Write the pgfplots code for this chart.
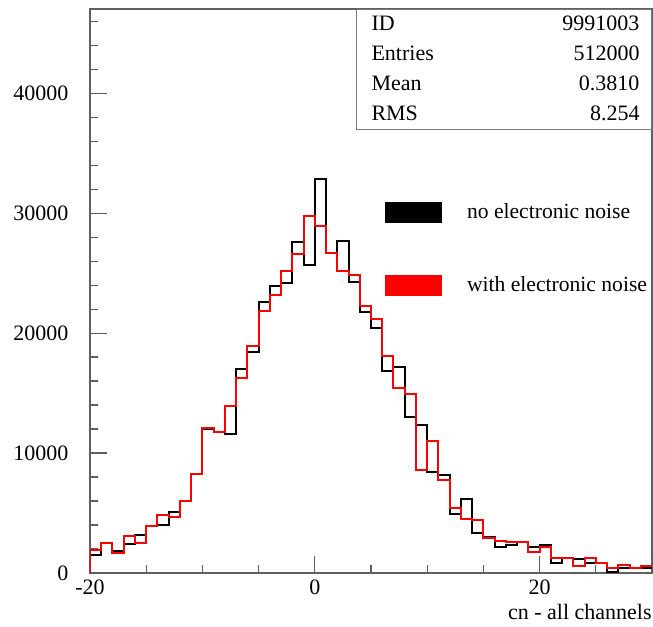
\documentclass[border=0pt]{standalone}
\usepackage{pgfplots}
\pgfplotsset{compat=1.18}
\usepackage{pgfplotstable}
\usepackage{fontspec}
\setmainfont{Liberation Serif}
\definecolor{axgray}{RGB}{95,95,95}
\definecolor{boxgray}{RGB}{120,120,120}
\pgfplotstableread{
x black red
-20 0 0
-20 1480 1910
-19 2500 2500
-18 1830 1650
-17 2400 3060
-16 3190 2500
-15 3900 3900
-14 3980 4830
-13 5080 4670
-12 6010 6010
-11 8220 8220
-10 12000 12110
-9 11720 11720
-8 11580 13900
-7 17000 16220
-6 18390 18940
-5 22560 21830
-4 23940 23200
-3 24180 25180
-2 27580 26570
-1 25720 29760
0 32890 28930
1 26700 26720
2 27640 25140
3 24280 24860
4 21780 22280
5 20390 21170
6 16850 18060
7 17190 15390
8 12970 14890
9 12330 8560
10 8380 11000
11 8190 7750
12 4890 5390
13 6150 4470
14 3330 4450
15 3000 2900
16 2160 2650
17 2350 2550
18 2550 2550
19 2190 1780
20 2330 2140
21 850 1220
22 1220 1220
23 1150 610
24 850 1250
25 800 860
26 120 440
27 440 670
28 390 440
29 440 610
30 440 610
}\histdata
\begin{document}
\begin{tikzpicture}
\begin{axis}[name=ax, scale only axis, width=281pt, height=281.85pt,
  xmin=-20, xmax=30, ymin=0, ymax=47000,
  axis line style={axgray, line width=0.8pt},
  tick style={axgray, line width=0.6pt},
  tick align=inside, xtick pos=bottom, ytick pos=left,
  xtick={-20,0,20}, xticklabels={-20,0,20},
  minor xtick={-15,-10,-5,5,10,15,25},
  ytick={0,10000,20000,30000,40000}, yticklabels={0,10000,20000,30000,40000},
  minor ytick={2000,4000,...,46000},
  major tick length=8.5pt, minor tick length=4pt,
  tick label style={font=\fontsize{11}{13}\selectfont},
  yticklabel style={xshift=-7.3pt},
  xlabel={cn - all channels},
  xlabel style={at={(rel axis cs:1,0)}, anchor=north east, yshift=-12.3pt, inner xsep=0pt, font=\fontsize{11}{13}\selectfont},
  legend style={draw=none, fill=none, at={(0.525,0.6617)}, anchor=north west, inner sep=0pt, outer sep=0pt, font=\fontsize{10.8}{13}\selectfont, /tikz/row sep=23.5pt, /tikz/column sep=10.5pt},
  legend cell align=left,
]
\addplot[const plot, black, line width=1pt, legend image code/.code={\fill[black] (0pt,-4.75pt) rectangle (27.5pt,4.75pt);}] table[x=x, y=black] {\histdata};
\addlegendentry{no electronic noise}
\addplot[const plot, red, line width=1pt, legend image code/.code={\fill[red] (0pt,-4.75pt) rectangle (27.5pt,4.75pt);}] table[x=x, y=red] {\histdata};
\addlegendentry{with electronic noise}
\end{axis}
\node[draw=boxgray, line width=0.5pt, fill=white, anchor=north east, inner xsep=0pt, inner ysep=0pt] at (ax.north east) {\fontsize{11}{15}\selectfont\begin{tabular*}{147.5pt}{@{\hspace{7.5pt}}l@{\extracolsep{\fill}}r@{\hspace{6pt}}}ID & 9991003\\ Entries & 512000\\ Mean & 0.3810\\ RMS & 8.254\end{tabular*}};
\pgfresetboundingbox
\path[use as bounding box] ([shift={(-45pt,-27pt)}]ax.south west) rectangle ([shift={(0.5pt,4.65pt)}]ax.north east);
\end{tikzpicture}
\end{document}
